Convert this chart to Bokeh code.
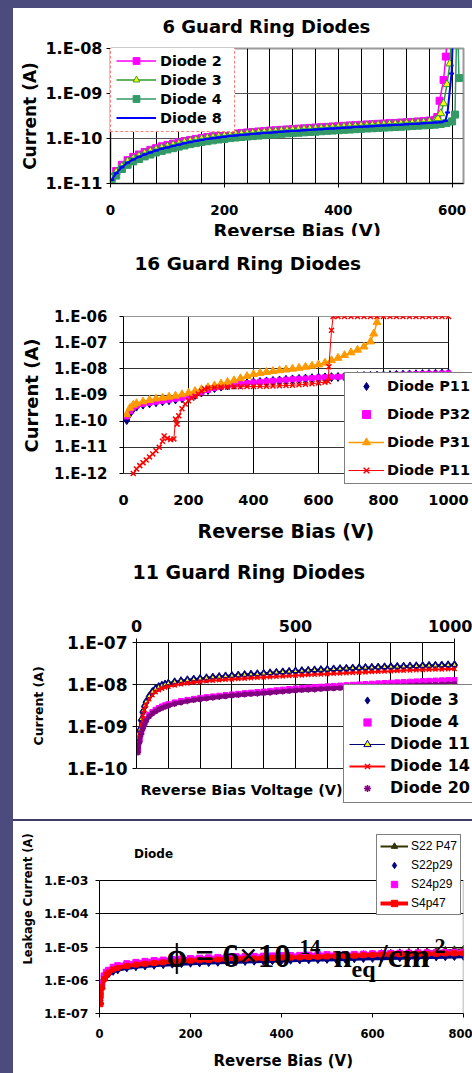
from bokeh.plotting import figure
from bokeh.models import (FixedTicker, CustomJSTickFormatter, Label, Legend, LegendItem,
                          LinearAxis, LogAxis, Title)
from bokeh.layouts import column
from bokeh.embed import file_html
from bokeh.resources import INLINE

# ======================= DATA =======================
# ---- Panel 1: 6 Guard Ring Diodes (V, A) ----
bias_6gr = [2, 10, 20, 30, 40, 50, 60, 70, 80, 90, 100, 110, 120, 130, 140, 150, 160, 170, 180, 190,
            200, 210, 220, 230, 240, 250, 260, 270, 280, 290, 300, 310, 320, 330, 340, 350, 360, 370, 380, 390,
            400, 410, 420, 430, 440, 450, 460, 470, 480, 490, 500, 510, 520, 530, 540, 550, 560, 570]
diode2_i = [1.4e-11, 1.9e-11, 2.6e-11, 3.3e-11, 3.9e-11, 4.4e-11, 5.0e-11, 5.6e-11, 6.1e-11, 6.7e-11,
            7.2e-11, 7.7e-11, 8.2e-11, 8.8e-11, 9.3e-11, 9.8e-11, 1.03e-10, 1.08e-10, 1.12e-10, 1.17e-10,
            1.21e-10, 1.25e-10, 1.29e-10, 1.33e-10, 1.36e-10, 1.4e-10, 1.43e-10, 1.46e-10, 1.5e-10, 1.53e-10,
            1.56e-10, 1.59e-10, 1.62e-10, 1.65e-10, 1.68e-10, 1.72e-10, 1.75e-10, 1.78e-10, 1.81e-10, 1.85e-10,
            1.88e-10, 1.91e-10, 1.95e-10, 1.98e-10, 2.01e-10, 2.05e-10, 2.08e-10, 2.12e-10, 2.15e-10, 2.19e-10,
            2.22e-10, 2.26e-10, 2.3e-10, 2.34e-10, 2.39e-10, 2.44e-10, 2.5e-10, 2.6e-10]
diode2_tail_v = [574, 578, 585, 589, 593]
diode2_tail_i = [3.0e-10, 6.9e-10, 2.0e-9, 6.6e-9, 3.0e-8]
diode3_i = [1.3e-11, 1.8e-11, 2.4e-11, 3.1e-11, 3.6e-11, 4.1e-11, 4.7e-11, 5.2e-11, 5.7e-11, 6.2e-11,
            6.7e-11, 7.2e-11, 7.7e-11, 8.3e-11, 8.8e-11, 9.3e-11, 9.8e-11, 1.03e-10, 1.07e-10, 1.11e-10,
            1.15e-10, 1.19e-10, 1.23e-10, 1.27e-10, 1.3e-10, 1.33e-10, 1.37e-10, 1.4e-10, 1.43e-10, 1.46e-10,
            1.49e-10, 1.52e-10, 1.55e-10, 1.58e-10, 1.61e-10, 1.64e-10, 1.67e-10, 1.7e-10, 1.73e-10, 1.77e-10,
            1.8e-10, 1.83e-10, 1.86e-10, 1.89e-10, 1.93e-10, 1.96e-10, 1.99e-10, 2.02e-10, 2.05e-10, 2.09e-10,
            2.12e-10, 2.15e-10, 2.19e-10, 2.23e-10, 2.27e-10, 2.31e-10, 2.36e-10, 2.45e-10]
diode3_tail_v = [575, 580, 585, 591, 596, 600]
diode3_tail_i = [2.8e-10, 3.6e-10, 6.0e-10, 1.6e-9, 4.6e-9, 3.0e-8]
diode4_i = [1.1e-11, 1.5e-11, 2.1e-11, 2.6e-11, 3.1e-11, 3.5e-11, 4.0e-11, 4.4e-11, 4.9e-11, 5.3e-11,
            5.7e-11, 6.1e-11, 6.6e-11, 7.0e-11, 7.5e-11, 7.9e-11, 8.4e-11, 8.7e-11, 9.1e-11, 9.5e-11,
            9.8e-11, 1.02e-10, 1.05e-10, 1.08e-10, 1.11e-10, 1.13e-10, 1.16e-10, 1.19e-10, 1.22e-10, 1.24e-10,
            1.27e-10, 1.3e-10, 1.32e-10, 1.34e-10, 1.37e-10, 1.4e-10, 1.42e-10, 1.45e-10, 1.48e-10, 1.5e-10,
            1.53e-10, 1.56e-10, 1.58e-10, 1.61e-10, 1.64e-10, 1.67e-10, 1.69e-10, 1.72e-10, 1.75e-10, 1.77e-10,
            1.8e-10, 1.83e-10, 1.86e-10, 1.89e-10, 1.93e-10, 1.96e-10, 2.0e-10, 2.03e-10]
diode4_tail_v = [580, 590, 600, 605, 609, 612]
diode4_tail_i = [2.1e-10, 2.2e-10, 2.4e-10, 3.4e-10, 1.0e-7, 2.2e-9]
diode8_i = [1.2e-11, 1.7e-11, 2.3e-11, 2.9e-11, 3.4e-11, 3.9e-11, 4.4e-11, 4.9e-11, 5.4e-11, 5.9e-11,
            6.3e-11, 6.8e-11, 7.3e-11, 7.8e-11, 8.3e-11, 8.8e-11, 9.3e-11, 9.7e-11, 1.01e-10, 1.05e-10,
            1.09e-10, 1.13e-10, 1.17e-10, 1.2e-10, 1.23e-10, 1.26e-10, 1.29e-10, 1.32e-10, 1.35e-10, 1.38e-10,
            1.41e-10, 1.44e-10, 1.47e-10, 1.49e-10, 1.52e-10, 1.55e-10, 1.58e-10, 1.61e-10, 1.64e-10, 1.67e-10,
            1.7e-10, 1.73e-10, 1.76e-10, 1.79e-10, 1.82e-10, 1.85e-10, 1.88e-10, 1.91e-10, 1.94e-10, 1.97e-10,
            2.0e-10, 2.03e-10, 2.07e-10, 2.1e-10, 2.14e-10, 2.18e-10, 2.22e-10, 2.26e-10]
diode8_tail_v = [580, 588, 592, 599, 602]
diode8_tail_i = [2.3e-10, 2.45e-10, 3.8e-10, 2.8e-9, 3.0e-8]

# ---- Panel 2: 16 Guard Ring Diodes ----
bias_16gr = [10, 20, 30, 40, 60, 80, 100, 120, 140, 160, 180, 200, 220, 240, 260, 280, 300, 320, 340, 360,
             380, 400, 420, 440, 460, 480, 500, 520, 540, 560, 580, 600, 620, 640, 660, 680, 700, 720, 740, 760,
             780, 800, 820, 840, 860, 880, 900, 920, 940, 960, 980, 1000]
p11_i = [1.1e-10, 2.0e-10, 3.0e-10, 3.6e-10, 4.3e-10, 4.8e-10, 5.3e-10, 5.8e-10, 6.3e-10, 6.8e-10,
         7.5e-10, 8.5e-10, 1.0e-9, 1.25e-9, 1.55e-9, 1.85e-9, 2.1e-9, 2.3e-9, 2.45e-9, 2.6e-9,
         2.8e-9, 3.0e-9, 3.15e-9, 3.3e-9, 3.45e-9, 3.6e-9, 3.8e-9, 3.95e-9, 4.1e-9, 4.25e-9,
         4.4e-9, 4.6e-9, 4.7e-9, 4.8e-9, 4.9e-9, 5.0e-9, 5.1e-9, 5.2e-9, 5.3e-9, 5.4e-9,
         5.5e-9, 5.6e-9, 5.75e-9, 5.9e-9, 6.0e-9, 6.1e-9, 6.2e-9, 6.3e-9, 6.4e-9, 6.5e-9,
         6.6e-9, 6.7e-9]
p32_i = [1.5e-10, 2.4e-10, 3.3e-10, 3.9e-10, 4.5e-10, 5.0e-10, 5.5e-10, 6.0e-10, 6.5e-10, 7.0e-10,
         7.7e-10, 8.7e-10, 1.02e-9, 1.27e-9, 1.55e-9, 1.85e-9, 2.1e-9, 2.3e-9, 2.5e-9, 2.65e-9,
         2.85e-9, 3.05e-9, 3.2e-9, 3.35e-9, 3.5e-9, 3.65e-9, 3.85e-9, 4.0e-9, 4.15e-9, 4.3e-9,
         4.45e-9, 4.65e-9, 4.75e-9, 4.85e-9, 4.95e-9, 5.05e-9, 5.15e-9, 5.25e-9, 5.35e-9, 5.45e-9,
         5.55e-9, 5.65e-9, 5.8e-9, 5.95e-9, 6.05e-9, 6.15e-9, 6.25e-9, 6.35e-9, 6.45e-9, 6.55e-9,
         6.65e-9, 6.75e-9]
bias_p31 = [10, 20, 30, 40, 60, 80, 100, 120, 140, 160, 180, 200, 220, 240, 260, 280, 300, 320, 340, 360,
            380, 400, 420, 440, 460, 480, 500, 520, 540, 560, 580, 600, 620, 640, 660, 680, 700, 720, 740, 760,
            770, 780]
p31_i = [1.8e-10, 3.2e-10, 4.2e-10, 4.8e-10, 5.6e-10, 6.4e-10, 7.2e-10, 7.8e-10, 8.5e-10, 9.3e-10,
         1.05e-9, 1.2e-9, 1.4e-9, 1.65e-9, 1.95e-9, 2.3e-9, 2.7e-9, 3.1e-9, 3.6e-9, 4.3e-9,
         5.2e-9, 6.2e-9, 6.9e-9, 7.5e-9, 8.1e-9, 8.7e-9, 9.3e-9, 1.0e-8, 1.08e-8, 1.18e-8,
         1.3e-8, 1.45e-8, 1.7e-8, 2.1e-8, 2.6e-8, 3.3e-8, 4.2e-8, 5.3e-8, 7.0e-8, 1.1e-7,
         2.2e-7, 6.0e-7]
bias_p11b = [30, 40, 50, 60, 70, 80, 90, 100, 110, 120, 125, 135, 145, 155, 160, 165, 170, 180, 190, 200,
             210, 220, 230, 240, 250, 260, 280, 300, 320, 340, 360, 380, 400, 420, 440, 460, 480, 500, 520, 540,
             560, 580, 600, 620, 630, 632, 640, 645, 660, 680, 700, 720, 740, 760, 780, 800, 820, 840, 860, 880,
             900, 920, 940, 960, 980, 1000]
p11b_i = [1.0e-12, 1.5e-12, 2.0e-12, 2.6e-12, 3.3e-12, 4.3e-12, 5.6e-12, 7.4e-12, 1.0e-11, 1.7e-11,
          2.7e-11, 2.2e-11, 2.0e-11, 2.1e-11, 1.2e-10, 7.7e-11, 1.6e-10, 3.0e-10, 4.5e-10, 6.0e-10,
          7.5e-10, 9.0e-10, 1.1e-9, 1.4e-9, 1.7e-9, 1.85e-9, 1.95e-9, 2.0e-9, 2.0e-9, 2.05e-9,
          2.05e-9, 2.1e-9, 2.1e-9, 2.15e-9, 2.15e-9, 2.2e-9, 2.25e-9, 2.3e-9, 2.35e-9, 2.45e-9,
          2.55e-9, 2.7e-9, 2.9e-9, 3.1e-9, 3.3e-9, 1.2e-8, 3.0e-7, 1.0e-6, 1.0e-6, 1.0e-6,
          1.0e-6, 1.0e-6, 1.0e-6, 1.0e-6, 1.0e-6, 1.0e-6, 1.0e-6, 1.0e-6, 1.0e-6, 1.0e-6,
          1.0e-6, 1.0e-6, 1.0e-6, 1.0e-6, 1.0e-6, 1.0e-6]

# ---- Panel 3: 11 Guard Ring Diodes ----
bias_11gr = [5, 10, 15, 20, 25, 30, 40, 50, 60, 70, 80, 90, 100, 120, 140, 160, 180, 200, 220, 240,
             260, 280, 300, 320, 340, 360, 380, 400, 420, 440, 460, 480, 500, 520, 540, 560, 580, 600, 620, 640,
             660, 680, 700, 720, 740, 760, 780, 800, 820, 840, 860, 880, 900, 920, 940, 960, 980, 1000]
gr11_d3_i = [4.0e-10, 8.0e-10, 1.4e-9, 2.2e-9, 3.0e-9, 3.8e-9, 5.2e-9, 6.6e-9, 7.8e-9, 8.7e-9,
             9.4e-9, 1.0e-8, 1.05e-8, 1.13e-8, 1.2e-8, 1.26e-8, 1.31e-8, 1.36e-8, 1.41e-8, 1.46e-8,
             1.51e-8, 1.56e-8, 1.6e-8, 1.64e-8, 1.68e-8, 1.72e-8, 1.76e-8, 1.8e-8, 1.85e-8, 1.9e-8,
             1.95e-8, 2.0e-8, 2.05e-8, 2.09e-8, 2.13e-8, 2.17e-8, 2.21e-8, 2.25e-8, 2.29e-8, 2.33e-8,
             2.37e-8, 2.41e-8, 2.45e-8, 2.48e-8, 2.51e-8, 2.54e-8, 2.57e-8, 2.6e-8, 2.63e-8, 2.66e-8,
             2.69e-8, 2.72e-8, 2.75e-8, 2.78e-8, 2.81e-8, 2.84e-8, 2.87e-8, 2.9e-8]
gr11_d4_i = [2.8e-10, 5.0e-10, 7.5e-10, 1.0e-9, 1.25e-9, 1.5e-9, 1.9e-9, 2.2e-9, 2.5e-9, 2.75e-9,
             3.0e-9, 3.2e-9, 3.4e-9, 3.75e-9, 4.05e-9, 4.3e-9, 4.55e-9, 4.8e-9, 5.0e-9, 5.2e-9,
             5.4e-9, 5.6e-9, 5.8e-9, 6.0e-9, 6.2e-9, 6.4e-9, 6.6e-9, 6.8e-9, 7.05e-9, 7.3e-9,
             7.55e-9, 7.8e-9, 8.05e-9, 8.25e-9, 8.45e-9, 8.65e-9, 8.85e-9, 9.05e-9, 9.25e-9, 9.45e-9,
             9.65e-9, 9.85e-9, 1.005e-8, 1.025e-8, 1.045e-8, 1.065e-8, 1.085e-8, 1.105e-8, 1.125e-8, 1.145e-8,
             1.165e-8, 1.185e-8, 1.205e-8, 1.225e-8, 1.24e-8, 1.255e-8, 1.27e-8, 1.285e-8]
gr11_d11_i = [4.2e-10, 8.5e-10, 1.5e-9, 2.3e-9, 3.1e-9, 3.9e-9, 5.3e-9, 6.7e-9, 7.9e-9, 8.8e-9,
              9.5e-9, 1.01e-8, 1.07e-8, 1.15e-8, 1.22e-8, 1.28e-8, 1.33e-8, 1.38e-8, 1.43e-8, 1.48e-8,
              1.53e-8, 1.58e-8, 1.62e-8, 1.66e-8, 1.7e-8, 1.74e-8, 1.78e-8, 1.83e-8, 1.88e-8, 1.93e-8,
              1.98e-8, 2.03e-8, 2.08e-8, 2.12e-8, 2.16e-8, 2.2e-8, 2.24e-8, 2.28e-8, 2.32e-8, 2.36e-8,
              2.4e-8, 2.44e-8, 2.48e-8, 2.51e-8, 2.54e-8, 2.57e-8, 2.6e-8, 2.63e-8, 2.66e-8, 2.69e-8,
              2.72e-8, 2.75e-8, 2.78e-8, 2.81e-8, 2.84e-8, 2.87e-8, 2.9e-8, 2.93e-8]
gr11_d14_i = [3.2e-10, 6.5e-10, 1.1e-9, 1.8e-9, 2.5e-9, 3.2e-9, 4.5e-9, 5.6e-9, 6.6e-9, 7.4e-9,
              8.0e-9, 8.5e-9, 8.9e-9, 9.6e-9, 1.02e-8, 1.07e-8, 1.12e-8, 1.16e-8, 1.2e-8, 1.24e-8,
              1.27e-8, 1.3e-8, 1.33e-8, 1.36e-8, 1.39e-8, 1.42e-8, 1.45e-8, 1.48e-8, 1.51e-8, 1.54e-8,
              1.57e-8, 1.6e-8, 1.63e-8, 1.66e-8, 1.69e-8, 1.72e-8, 1.75e-8, 1.78e-8, 1.81e-8, 1.84e-8,
              1.87e-8, 1.9e-8, 1.93e-8, 1.96e-8, 1.99e-8, 2.02e-8, 2.05e-8, 2.08e-8, 2.11e-8, 2.14e-8,
              2.17e-8, 2.2e-8, 2.23e-8, 2.26e-8, 2.28e-8, 2.3e-8, 2.33e-8, 2.35e-8]
gr11_d20_i = [2.4e-10, 4.3e-10, 6.5e-10, 8.8e-10, 1.1e-9, 1.35e-9, 1.75e-9, 2.05e-9, 2.3e-9, 2.55e-9,
              2.75e-9, 2.95e-9, 3.1e-9, 3.45e-9, 3.75e-9, 4.0e-9, 4.25e-9, 4.45e-9, 4.65e-9, 4.85e-9,
              5.05e-9, 5.25e-9, 5.45e-9, 5.6e-9, 5.75e-9, 5.9e-9, 6.05e-9, 6.2e-9, 6.4e-9, 6.6e-9,
              6.8e-9, 7.0e-9, 7.2e-9, 7.35e-9, 7.5e-9, 7.65e-9, 7.8e-9, 7.95e-9, 8.1e-9, 8.25e-9,
              8.4e-9, 8.55e-9, 8.7e-9, 8.8e-9, 8.9e-9, 9.0e-9, 9.1e-9, 9.2e-9, 9.3e-9, 9.4e-9,
              9.5e-9, 9.6e-9, 9.7e-9, 9.8e-9, 9.9e-9, 1.0e-8, 1.02e-8, 1.04e-8]

# ---- Panel 4: irradiated diodes, phi = 6e14 neq/cm2 ----
bias_irr = [2, 5, 10, 15, 20, 30, 40, 60, 80, 100, 120, 140, 160, 180, 200, 220, 240, 260, 280, 300,
            320, 340, 360, 380, 400, 420, 440, 460, 480, 500, 520, 540, 560, 580, 600, 620, 640, 660, 680, 700,
            720, 740, 760, 780, 800]
s22p47_i = [2.2e-7, 6.5e-7, 1.15e-6, 1.5e-6, 1.75e-6, 2.15e-6, 2.4e-6, 2.75e-6, 3.0e-6, 3.2e-6,
            3.35e-6, 3.5e-6, 3.65e-6, 3.8e-6, 3.95e-6, 4.05e-6, 4.15e-6, 4.25e-6, 4.35e-6, 4.45e-6,
            4.52e-6, 4.6e-6, 4.7e-6, 4.8e-6, 4.9e-6, 4.97e-6, 5.05e-6, 5.15e-6, 5.25e-6, 5.35e-6,
            5.45e-6, 5.55e-6, 5.7e-6, 5.9e-6, 6.1e-6, 6.3e-6, 6.5e-6, 6.7e-6, 6.9e-6, 7.1e-6,
            7.35e-6, 7.6e-6, 7.9e-6, 8.2e-6, 8.5e-6]
s22p29_i = [2.5e-7, 6.5e-7, 1.05e-6, 1.35e-6, 1.55e-6, 1.85e-6, 2.05e-6, 2.35e-6, 2.55e-6, 2.7e-6,
            2.82e-6, 2.95e-6, 3.05e-6, 3.15e-6, 3.25e-6, 3.32e-6, 3.4e-6, 3.47e-6, 3.55e-6, 3.62e-6,
            3.68e-6, 3.74e-6, 3.8e-6, 3.87e-6, 3.94e-6, 4.0e-6, 4.06e-6, 4.12e-6, 4.18e-6, 4.24e-6,
            4.3e-6, 4.36e-6, 4.42e-6, 4.48e-6, 4.55e-6, 4.62e-6, 4.69e-6, 4.76e-6, 4.83e-6, 4.9e-6,
            4.97e-6, 5.04e-6, 5.11e-6, 5.18e-6, 5.25e-6]
s24p29_i = [3.5e-7, 8.0e-7, 1.35e-6, 1.75e-6, 2.0e-6, 2.45e-6, 2.75e-6, 3.15e-6, 3.45e-6, 3.7e-6,
            3.9e-6, 4.05e-6, 4.2e-6, 4.35e-6, 4.5e-6, 4.62e-6, 4.74e-6, 4.86e-6, 4.98e-6, 5.1e-6,
            5.17e-6, 5.23e-6, 5.3e-6, 5.4e-6, 5.5e-6, 5.55e-6, 5.6e-6, 5.7e-6, 5.8e-6, 5.9e-6,
            5.85e-6, 5.9e-6, 6.0e-6, 6.1e-6, 6.25e-6, 6.35e-6, 6.45e-6, 6.5e-6, 6.55e-6, 6.65e-6,
            6.7e-6, 6.75e-6, 6.85e-6, 6.9e-6, 6.95e-6]
s4p47_i = [1.9e-7, 6.0e-7, 1.1e-6, 1.45e-6, 1.7e-6, 2.1e-6, 2.35e-6, 2.7e-6, 2.95e-6, 3.15e-6,
           3.3e-6, 3.45e-6, 3.6e-6, 3.75e-6, 3.9e-6, 4.0e-6, 4.1e-6, 4.2e-6, 4.3e-6, 4.4e-6,
           4.45e-6, 4.5e-6, 4.6e-6, 4.7e-6, 4.8e-6, 4.85e-6, 4.9e-6, 5.0e-6, 5.1e-6, 5.2e-6,
           5.3e-6, 5.4e-6, 5.5e-6, 5.65e-6, 5.8e-6, 5.9e-6, 6.0e-6, 6.05e-6, 6.1e-6, 6.2e-6,
           6.25e-6, 6.3e-6, 6.4e-6, 6.45e-6, 6.5e-6]

# ======================= STYLE =======================
SANS = "DejaVu Sans"
SERIF = "Liberation Serif"
BG_TOP = ("linear-gradient(to right, #4b4c7d 13px, transparent 13px), "
          "linear-gradient(to bottom, #4b4c7d 8px, #ffffff 8px)")
BG_STRIP = "linear-gradient(to right, #4b4c7d 13px, #ffffff 13px)"
BG_LAST = ("linear-gradient(to right, #4b4c7d 13px, transparent 13px), "
           "linear-gradient(to bottom, #3d3e66 2px, #ffffff 2px)")
MAGENTA = "#ff00ff"
NAVY = "#000080"
RED = "#ff0000"
ORANGE = "#ff9900"
GREEN = "#2e9a2e"
SEAGREEN = "#339966"
BLUE = "#0000ff"
PURPLE = "#800080"
YELLOW = "#ffff00"
OLIVE = "#333300"

DECADE_JS = """
const e = Math.round(Math.log10(tick));
const s = String(Math.abs(e)).padStart(2, "0");
return "1.E" + (e < 0 ? "-" : "+") + s;
"""


def make_fig(height, borders, x_range, y_range, x_loc="below"):
    left, right, top, bottom = borders
    p = figure(width=459, height=height, x_range=x_range, y_range=y_range,
               y_axis_type="log", x_axis_location=x_loc, output_backend="svg",
               toolbar_location=None, min_border_left=left, min_border_right=right,
               min_border_top=top, min_border_bottom=bottom,
               background_fill_color="white", border_fill_color="white")
    try:
        p.title = None
    except Exception:
        p.title.text = ""
    return p


def style_axes(p, yticks, xticks, ysize, xsize, ystand, xstand):
    yax = p.yaxis[0]
    xax = p.xaxis[0]
    yax.ticker = FixedTicker(ticks=yticks, minor_ticks=[])
    yax.formatter = CustomJSTickFormatter(code=DECADE_JS)
    xax.ticker = FixedTicker(ticks=xticks, minor_ticks=[])
    for ax, size, st in ((yax, ysize, ystand), (xax, xsize, xstand)):
        ax.axis_line_color = "black"
        ax.axis_line_width = 1
        ax.major_tick_line_color = "black"
        ax.major_tick_in = 0
        ax.major_tick_out = 4
        ax.minor_tick_line_color = None
        ax.major_label_text_font = SANS
        ax.major_label_text_font_style = "bold"
        ax.major_label_text_font_size = size
        ax.major_label_text_color = "black"
        ax.major_label_standoff = st
    return xax, yax


def grid_axis(p, log, side, ticks, length, loc, color="black", width=1.0):
    # an axis used only for its inward ticks, which draw the Excel-style grid lines
    cls = LogAxis if log else LinearAxis
    ax = cls(ticker=FixedTicker(ticks=ticks, minor_ticks=[]), fixed_location=loc, level="underlay",
             axis_line_color=None, major_tick_in=length, major_tick_out=0,
             major_tick_line_color=color, major_tick_line_width=width,
             minor_tick_line_color=None, major_label_text_font_size="2px",
             major_label_text_alpha=0, major_label_standoff=0)
    p.add_layout(ax, side)


def spacer(p, side, size, at):
    # an axis with one white outward tick of `size` px and no visible label:
    # it only reserves space in a side panel (white on the white border)
    cls = LogAxis if side in ("left", "right") else LinearAxis
    ax = cls(ticker=FixedTicker(ticks=[at], minor_ticks=[]), axis_line_color=None,
             major_tick_out=size, major_tick_in=0, major_tick_line_color="white",
             minor_tick_line_color=None, major_label_text_font_size="1px",
             major_label_text_alpha=0, major_label_standoff=0)
    p.add_layout(ax, side)


def add_title(p, side, text, size, align, offset, standoff, valign="bottom"):
    t = Title(text=text, align=align, offset=offset, standoff=standoff, vertical_align=valign,
              text_font=SANS, text_font_size=size, text_font_style="bold", text_color="black")
    p.add_layout(t, side)


def add_text(p, x, y, text, size, angle=0, font=SANS, style="bold",
             align="center", baseline="middle"):
    p.add_layout(Label(x=x, y=y, x_units="screen", y_units="screen", text=text,
                       text_font=font, text_font_size=size, text_font_style=style,
                       text_align=align, text_baseline=baseline, angle=angle,
                       angle_units="deg", text_color="black"))


def add_legend(p, items, loc, size, padding, spacing, gw, gh, standoff,
               font=SANS, style="bold", border="black", dash="solid", label_width=20):
    leg = Legend(items=items, location=loc, orientation="vertical", padding=padding,
                 spacing=spacing, margin=0, glyph_width=gw, glyph_height=gh,
                 label_height=gh, label_width=label_width, label_standoff=standoff,
                 label_text_font=font, label_text_font_size=size,
                 label_text_font_style=style, label_text_color="black",
                 border_line_color=border, border_line_width=1, border_line_dash=dash,
                 background_fill_color="white", background_fill_alpha=1.0)
    p.add_layout(leg)


# ======================= PANEL 1 =======================
# frame = plot area: x 110..463, y 48..183 (page px)
f1 = make_fig(239, (97, 9, 40, 64), (0, 620), (1e-11, 1e-8))
style_axes(f1, [1e-11, 1e-10, 1e-9, 1e-8], [0, 200, 400, 600], "16px", "13.5px", 4, 17)
f1.xgrid.ticker = FixedTicker(ticks=list(range(40, 620, 40)))
f1.xgrid.grid_line_color = "black"
f1.ygrid.ticker = FixedTicker(ticks=[1e-10, 1e-9])
f1.ygrid.grid_line_color = "#555555"
f1.outline_line_color = "#999999"
f1.outline_line_width = 2

v2 = bias_6gr + diode2_tail_v
i2 = diode2_i + diode2_tail_i
v3 = bias_6gr + diode3_tail_v
i3 = diode3_i + diode3_tail_i
v4 = bias_6gr + diode4_tail_v
i4 = diode4_i + diode4_tail_i
v8 = bias_6gr + diode8_tail_v
i8 = diode8_i + diode8_tail_i

l2 = f1.line(v2, i2, line_color=MAGENTA, line_width=1.5)
s2 = f1.scatter(v2, i2, marker="square", size=7, fill_color=MAGENTA, line_color=MAGENTA)
l3 = f1.line(v3, i3, line_color=GREEN, line_width=1.5)
s3 = f1.scatter(v3, i3, marker="triangle", size=8, fill_color=YELLOW, line_color=GREEN)
l4 = f1.line(v4, i4, line_color=SEAGREEN, line_width=1.5)
s4 = f1.scatter(v4, i4, marker="square", size=7, fill_color=SEAGREEN, line_color=SEAGREEN)
l8 = f1.line(v8, i8, line_color=BLUE, line_width=2)
s8 = f1.scatter(v8, i8, marker="dash", size=5, line_color=BLUE, line_width=2)

add_legend(f1, [LegendItem(label="Diode 2", renderers=[l2, s2]),
                LegendItem(label="Diode 3", renderers=[l3, s3]),
                LegendItem(label="Diode 4", renderers=[l4, s4]),
                LegendItem(label="Diode 8", renderers=[l8, s8])],
           (0, 51), "14.4px", 5, 2, 40, 17, 4, border=RED, dash="6 3", label_width=69)

spacer(f1, "above", 12, 0)
add_title(f1, "above", "6 Guard Ring Diodes", "18px", "left", 52, 0)
add_title(f1, "left", "Current (A)", "17px", "center", 0, 5)
add_title(f1, "below", "Reverse Bias (V)", "18px", "left", 103, 0)

# ======================= PANEL 2 =======================
# plot area x 123..448 (0..1000), y 316..473 (1e-6..1e-12); frame extended to 472 / 486
P2_X_END = 1000 * (472 - 123) / (448 - 123)
P2_Y_LO = 10 ** (-12 - (486 - 473) / ((473 - 316) / 6))
f2 = make_fig(317, (110, 0, 80, 67), (0, P2_X_END), (P2_Y_LO, 1e-6))
x2ax, y2ax = style_axes(f2, [1e-12, 1e-11, 1e-10, 1e-9, 1e-8, 1e-7, 1e-6],
                        [0, 200, 400, 600, 800, 1000], "15px", "14.5px", 12, 8)
x2ax.axis_line_color = None
x2ax.major_tick_out = 0
x2ax.bounds = (0, 1000)
y2ax.bounds = (1e-12, 1e-6)
f2.xgrid.visible = False
f2.ygrid.visible = False
f2.outline_line_color = None

f2.line(bias_16gr, p11_i, line_color=NAVY, line_width=3)
a1 = f2.scatter(bias_16gr, p11_i, marker="diamond", size=9, fill_color=NAVY, line_color=NAVY)
f2.line(bias_16gr, p32_i, line_color=MAGENTA, line_width=3)
a2 = f2.scatter(bias_16gr, p32_i, marker="square", size=5, fill_color=MAGENTA, line_color=MAGENTA)
b3l = f2.line(bias_p31, p31_i, line_color=ORANGE, line_width=1.5)
b3s = f2.scatter(bias_p31, p31_i, marker="triangle", size=8, fill_color=ORANGE, line_color=ORANGE)
b4l = f2.line(bias_p11b, p11b_i, line_color=RED, line_width=1)
b4s = f2.scatter(bias_p11b, p11b_i, marker="x", size=7, line_color=RED, line_width=1.5)

add_legend(f2, [LegendItem(label="Diode P11", renderers=[a1]),
                LegendItem(label="Diode P32", renderers=[a2]),
                LegendItem(label="Diode P31", renderers=[b3l, b3s]),
                LegendItem(label="Diode P11", renderers=[b4l, b4s])],
           (221, 2), "14.5px", 3, 8, 36, 20, 3)

spacer(f2, "above", 43, 0)
add_title(f2, "above", "16 Guard Ring Diodes", "18.5px", "left", 11, 0)
spacer(f2, "left", 10, 1e-12)
add_title(f2, "left", "Current (A)", "18px", "left", 34, 0)
spacer(f2, "below", 10, 0)
add_title(f2, "below", "Reverse Bias (V)", "19px", "left", 74, 0)
grid_axis(f2, False, "below", [200, 400, 600, 800, 1000], 473 - 316, 1e-12)
grid_axis(f2, True, "left", [1e-12, 1e-11, 1e-10, 1e-9, 1e-8, 1e-7, 1e-6], 448 - 123, 0,
          color="#333333")

# ======================= PANEL 3 =======================
# plot area x 136..454 (0..1000), y 642..768 (1e-7..1e-10); frame extended to 472 / 806
P3_X_END = 1000 * (472 - 136) / (454 - 136)
P3_Y_LO = 10 ** (-10 - (806 - 768) / ((768 - 642) / 3))
f3 = make_fig(266, (123, 0, 89, 13), (0, P3_X_END), (P3_Y_LO, 1e-7), x_loc="above")
x3ax, y3ax = style_axes(f3, [1e-10, 1e-9, 1e-8, 1e-7], [0, 500, 1000], "17px", "16px", 5, 7)
x3ax.bounds = (0, 1000)
y3ax.bounds = (1e-10, 1e-7)
f3.xgrid.visible = False
f3.ygrid.visible = False
f3.outline_line_color = None

f3.line(bias_11gr, gr11_d3_i, line_color=NAVY, line_width=3)
c1 = f3.scatter(bias_11gr, gr11_d3_i, marker="diamond", size=9, fill_color=NAVY, line_color=NAVY)
f3.line(bias_11gr, gr11_d4_i, line_color=MAGENTA, line_width=3)
c2 = f3.scatter(bias_11gr, gr11_d4_i, marker="square", size=5, fill_color=MAGENTA, line_color=MAGENTA)
c3l = f3.line(bias_11gr, gr11_d11_i, line_color=NAVY, line_width=1)
c3s = f3.scatter(bias_11gr, gr11_d11_i, marker="triangle", size=5, fill_color=YELLOW, line_color=NAVY)
c4l = f3.line(bias_11gr, gr11_d14_i, line_color=RED, line_width=2)
c4s = f3.scatter(bias_11gr, gr11_d14_i, marker="x", size=6, line_color=RED, line_width=1.5)
f3.line(bias_11gr, gr11_d20_i, line_color=PURPLE, line_width=4)
c5 = f3.scatter(bias_11gr, gr11_d20_i, marker="asterisk", size=6, line_color=PURPLE, line_width=1.5)

add_legend(f3, [LegendItem(label="Diode 3", renderers=[c1]),
                LegendItem(label="Diode 4", renderers=[c2]),
                LegendItem(label="Diode 11", renderers=[c3l, c3s]),
                LegendItem(label="Diode 14", renderers=[c4l, c4s]),
                LegendItem(label="Diode 20", renderers=[c5])],
           (207, 3), "16px", 5, 3, 36, 18, 5)

spacer(f3, "above", 34, 0)
add_title(f3, "above", "11 Guard Ring Diodes", "19px", "left", -4, 0)
spacer(f3, "left", 18, 1e-10)
add_title(f3, "left", "Current (A)", "12.5px", "left", 61, 0)
add_text(f3, 105, 17, "Reverse Bias Voltage (V)", "14.5px")
grid_axis(f3, False, "below", [100, 200, 300, 400, 500, 600, 700, 800, 900, 1000], 768 - 642, 1e-10)
grid_axis(f3, True, "left", [1e-10, 1e-9, 1e-8, 1e-7], 454 - 136, 0, color="#222222")

# ======================= PANEL 4 =======================
# plot area x 98..463 (0..800), y 880..1013 (1e-3..1e-7); frame extended up to 830
P4_Y_HI = 10 ** (-3 + (880 - 830) / ((1013 - 880) / 4))
f4 = make_fig(252, (85, 9, 9, 60), (0, 800), (1e-7, P4_Y_HI))
x4ax, y4ax = style_axes(f4, [1e-7, 1e-6, 1e-5, 1e-4, 1e-3], [0, 200, 400, 600, 800],
                        "12.5px", "11.5px", 7, 11)
x4ax.bounds = (0, 800)
y4ax.bounds = (1e-7, 1e-3)
f4.xgrid.visible = False
f4.ygrid.visible = False
f4.outline_line_color = None

d1l = f4.line(bias_irr, s22p47_i, line_color=OLIVE, line_width=2)
d1s = f4.scatter(bias_irr, s22p47_i, marker="triangle", size=7, fill_color=OLIVE, line_color=OLIVE)
f4.line(bias_irr, s22p29_i, line_color=NAVY, line_width=4)
d2 = f4.scatter(bias_irr, s22p29_i, marker="diamond", size=8, fill_color=NAVY, line_color=NAVY)
f4.line(bias_irr, s24p29_i, line_color=MAGENTA, line_width=4)
d3 = f4.scatter(bias_irr, s24p29_i, marker="square", size=6, fill_color=MAGENTA, line_color=MAGENTA)
d4l = f4.line(bias_irr, s4p47_i, line_color=RED, line_width=4)
d4s = f4.scatter(bias_irr, s4p47_i, marker="square", size=5, fill_color=RED, line_color=RED)

add_legend(f4, [LegendItem(label="S22 P47", renderers=[d1l, d1s]),
                LegendItem(label="S22p29", renderers=[d2]),
                LegendItem(label="S24p29", renderers=[d3]),
                LegendItem(label="S4p47", renderers=[d4l, d4s])],
           (277, 98), "12px", 3, 3, 28, 16, 3, font="Liberation Sans", style="normal")

add_text(f4, 54, 160, "Diode", "12px")
add_title(f4, "left", "Leakage Current (A)", "11.5px", "left", 49, 11)
spacer(f4, "below", 9, 0)
add_title(f4, "below", "Reverse Bias (V)", "15px", "left", 114, 0)

add_text(f4, 67, 58, "\u03d5 = 6\u00d710", "33px", font=SERIF, align="left", baseline="alphabetic")
add_text(f4, 200, 67, "14", "21px", font=SERIF, align="left", baseline="alphabetic")
add_text(f4, 234, 58, "n", "33px", font=SERIF, align="left", baseline="alphabetic")
add_text(f4, 252, 45, "eq", "24px", font=SERIF, align="left", baseline="alphabetic")
add_text(f4, 279, 58, "/cm", "33px", font=SERIF, align="left", baseline="alphabetic")
add_text(f4, 335, 68, "2", "22px", font=SERIF, align="left", baseline="alphabetic")
grid_axis(f4, True, "right", [1e-6, 1e-5, 1e-4, 1e-3], 463 - 98, 800)
grid_axis(f4, False, "above", [800], 1013 - 880, 1e-3, color="#a0a0a0", width=1.5)

# ======================= LAYOUT =======================
f1.margin = (8, 0, 0, 13)
f2.margin = (0, 0, 0, 13)
f3.margin = (0, 0, 0, 13)
f4.margin = (2, 0, 0, 13)

roots = [
    column(f1, styles={"background": BG_TOP}),
    column(f2, styles={"background": BG_STRIP}, margin=(-11, 0, 0, 0)),
    column(f3, styles={"background": BG_STRIP}),
    column(f4, styles={"background": BG_LAST}),
]

open("out.html", "w").write(file_html(roots, INLINE))
